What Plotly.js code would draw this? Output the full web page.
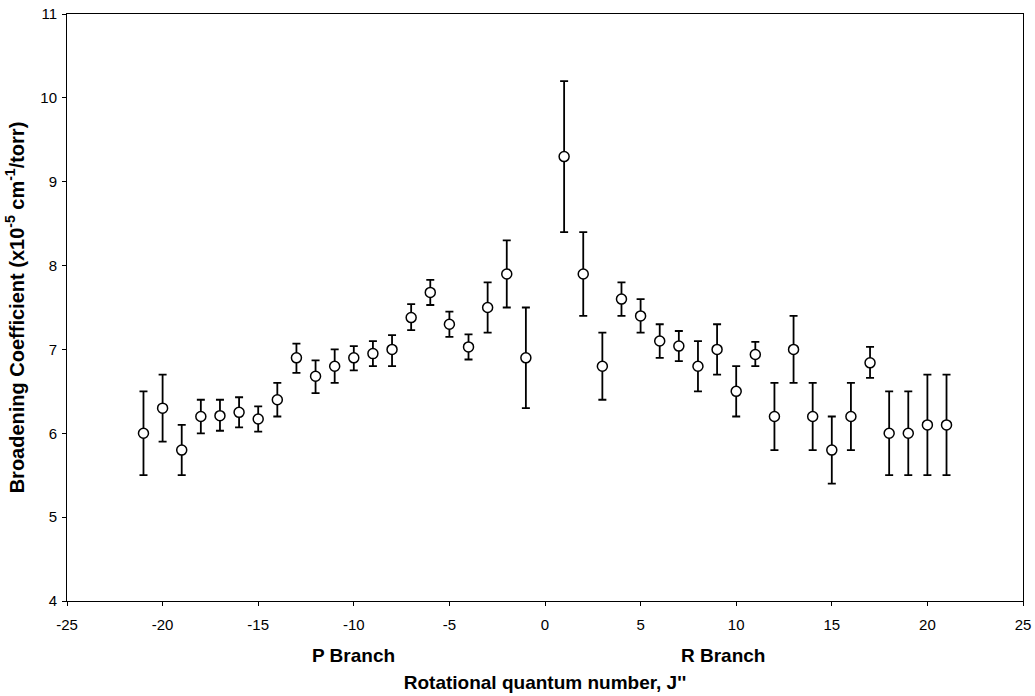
<!DOCTYPE html>
<html>
<head>
<meta charset="utf-8">
<script src="https://cdn.plot.ly/plotly-3.0.1.min.js"></script>
<style>html,body{margin:0;padding:0;background:#fff;}#chart{width:1035px;height:696px;}</style>
</head>
<body>
<div id="chart"></div>
<script>
const J = [-21,-20,-19,-18,-17,-16,-15,-14,-13,-12,-11,-10,-9,-8,-7,-6,-5,-4,-3,-2,-1,
           1,2,3,4,5,6,7,8,9,10,11,12,13,14,15,16,17,18,19,20,21];
const coeff = [6.0,6.3,5.8,6.2,6.21,6.25,6.17,6.4,6.9,6.68,6.8,6.9,6.95,7.0,7.38,7.68,7.3,7.03,7.5,7.9,6.9,
               9.3,7.9,6.8,7.6,7.4,7.1,7.04,6.8,7.0,6.5,6.94,6.2,7.0,6.2,5.8,6.2,6.84,6.0,6.0,6.1,6.1];
const errPlus = [0.5,0.4,0.3,0.2,0.19,0.18,0.15,0.2,0.17,0.19,0.2,0.14,0.15,0.17,0.16,0.15,0.15,0.15,0.3,0.4,0.6,
                 0.9,0.5,0.4,0.2,0.2,0.2,0.18,0.3,0.3,0.3,0.15,0.4,0.4,0.4,0.4,0.4,0.19,0.5,0.5,0.6,0.6];
const errMinus = [0.5,0.4,0.3,0.2,0.18,0.18,0.15,0.2,0.18,0.2,0.2,0.15,0.15,0.2,0.15,0.15,0.15,0.15,0.3,0.4,0.6,
                  0.9,0.5,0.4,0.2,0.2,0.2,0.18,0.3,0.3,0.3,0.14,0.4,0.4,0.4,0.4,0.4,0.18,0.5,0.5,0.6,0.6];
const xTickVals = [-25,-20,-15,-10,-5,0,5,10,15,20,25];
const xTickText = ["-25","-20","-15","-10","-5","0","5","10","15","20","25"];
const yTickVals = [4,5,6,7,8,9,10,11];
const yTickText = ["4","5","6","7","8","9","10","11"];
const branchLabels = ["P Branch","R Branch"];
const branchX = [-10.0, 9.3];

const FF = 'Arial, "Liberation Sans", sans-serif';
const trace = {
  x: J, y: coeff, type: 'scatter', mode: 'markers',
  marker: {symbol: 'circle', size: 10, color: '#ffffff', line: {color: '#000000', width: 1.5}},
  error_y: {type: 'data', symmetric: false, array: errPlus, arrayminus: errMinus,
            color: '#000000', thickness: 1.8, width: 4},
  showlegend: false, hoverinfo: 'x+y'
};

const layout = {
  width: 1035, height: 696,
  margin: {l: 67, r: 12, t: 14, b: 95},
  paper_bgcolor: '#fff', plot_bgcolor: '#fff',
  font: {family: FF, color: '#000', size: 15},
  showlegend: false,
  xaxis: {range: [-25, 25], tickmode: 'array', tickvals: xTickVals, ticktext: xTickText,
          showgrid: false, zeroline: false,
          showline: true, linecolor: '#000', linewidth: 1, mirror: true,
          ticks: 'outside', ticklen: 4, tickcolor: '#000', tickfont: {size: 15, family: FF},
          ticklabelstandoff: 6,
          title: {text: "<b>Rotational quantum number, J''</b>", font: {size: 19, family: FF}, standoff: 43}},
  yaxis: {range: [4, 11], tickmode: 'array', tickvals: yTickVals, ticktext: yTickText,
          showgrid: false, zeroline: false,
          showline: true, linecolor: '#000', linewidth: 1, mirror: true,
          ticks: 'outside', ticklen: 4, tickcolor: '#000', tickfont: {size: 15, family: FF},
          ticklabelstandoff: 2,
          title: {text: "<b>Broadening Coefficient (x10<sup>-5</sup> cm<sup>-1</sup>/torr)</b>", font: {size: 20, family: FF}, standoff: 10}},
  annotations: branchLabels.map((t, i) => ({
    text: '<b>' + t + '</b>', x: branchX[i], xref: 'x', y: -0.0925, yref: 'paper',
    showarrow: false, font: {size: 19, family: FF}, yanchor: 'middle'
  }))
};
Plotly.newPlot('chart', [trace], layout, {displayModeBar: false, staticPlot: true});
</script>
</body>
</html>
